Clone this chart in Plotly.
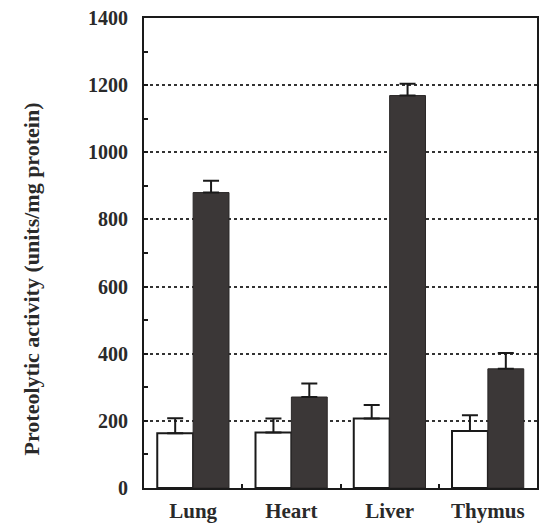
import plotly.graph_objects as go

categories = ["Lung", "Heart", "Liver", "Thymus"]
control_vals = [163, 165, 207, 170]
control_err = [45, 42, 40, 47]
treated_vals = [880, 271, 1169, 355]
treated_err = [35, 40, 35, 47]
y_ticks = [0, 200, 400, 600, 800, 1000, 1200, 1400]
y_title = "Proteolytic activity (units/mg protein)"

font_family = "Liberation Serif, Times New Roman, serif"

fig = go.Figure()
fig.add_trace(go.Bar(
    x=categories, y=control_vals,
    marker=dict(color="white", line=dict(color="#1a1a1a", width=2)),
    error_y=dict(type="data", symmetric=False, array=control_err,
                 arrayminus=[0] * len(control_err),
                 color="#1a1a1a", thickness=2, width=8),
    showlegend=False,
))
fig.add_trace(go.Bar(
    x=categories, y=treated_vals,
    marker=dict(color="#3b3737", line=dict(color="#2a2727", width=1)),
    error_y=dict(type="data", symmetric=False, array=treated_err,
                 arrayminus=[0] * len(treated_err),
                 color="#1a1a1a", thickness=2, width=8),
    showlegend=False,
))

fig.update_layout(
    width=541, height=525,
    margin=dict(l=144, r=2, t=18, b=35),
    paper_bgcolor="white", plot_bgcolor="white",
    barmode="group", bargap=0.27, bargroupgap=0,
    font=dict(family=font_family, color="#1a1a1a"),
)
fig.add_annotation(
    text=y_title, textangle=-90, showarrow=False,
    xref="paper", yref="paper", x=-0.286, y=0.445,
    xanchor="center", yanchor="middle",
    font=dict(size=22, family=font_family, weight="bold", color="#2a2a2a"),
)
fig.update_xaxes(
    showline=True, linecolor="#1a1a1a", linewidth=2, mirror=True,
    ticks="inside", ticklen=4, tickwidth=2, tickcolor="#1a1a1a",
    tickson="boundaries",
    tickfont=dict(size=21, family=font_family, weight="bold", color="#2a2a2a"),
    ticklabelstandoff=3,
    showgrid=False,
)
fig.update_yaxes(
    range=[0, 1400],
    tickvals=y_ticks,
    showline=True, linecolor="#1a1a1a", linewidth=2, mirror=True,
    ticks="inside", ticklen=4, tickwidth=2, tickcolor="#1a1a1a",
    minor=dict(dtick=100, ticks="inside", ticklen=4, tickwidth=2,
               tickcolor="#1a1a1a", showgrid=False),
    showgrid=True, gridcolor="#333333", gridwidth=2, griddash="dot",
    zeroline=False,
    tickfont=dict(size=20, family=font_family, weight="bold", color="#2a2a2a"),
    ticklabelstandoff=10,
)

fig.write_html("out.html", config={"displayModeBar": False},
               post_script="document.body.style.margin='0';document.body.style.overflow='hidden';")
